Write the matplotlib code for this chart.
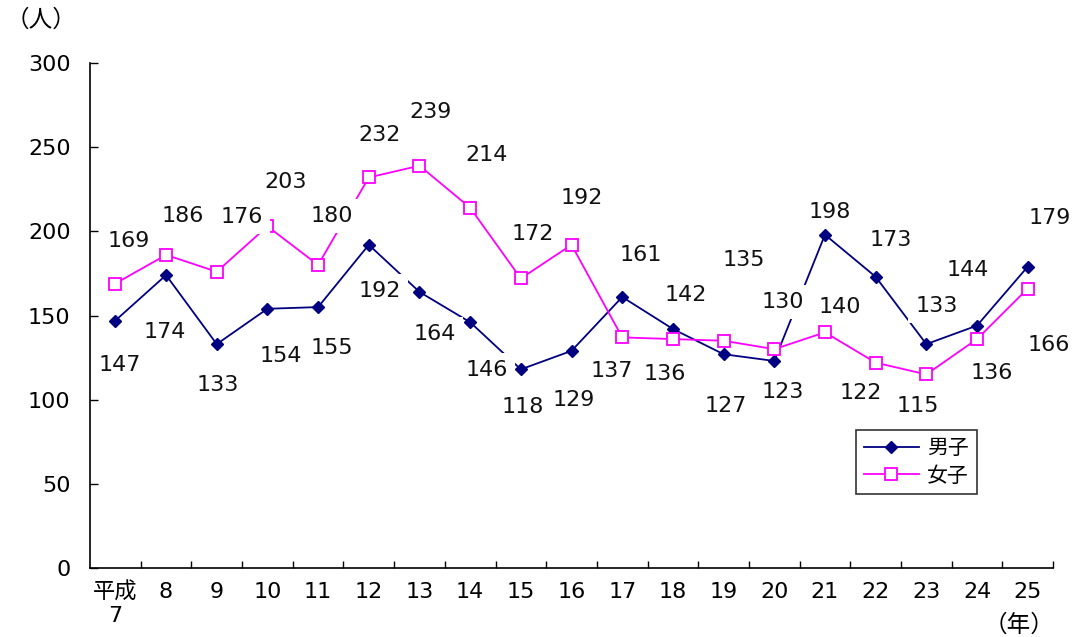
import matplotlib.pyplot as plt
import numpy as np

plt.rcParams['font.family'] = ['DejaVu Sans', 'Noto Sans CJK JP']

years = ['平成\n7', '8', '9', '10', '11', '12', '13', '14', '15', '16',
         '17', '18', '19', '20', '21', '22', '23', '24', '25']
male = [147, 174, 133, 154, 155, 192, 164, 146, 118, 129,
        161, 142, 127, 123, 198, 173, 133, 144, 179]
female = [169, 186, 176, 203, 180, 232, 239, 214, 172, 192,
          137, 136, 135, 130, 140, 122, 115, 136, 166]

# label offsets in pixels (dx, dy)
male_off = [(4, -44), (-1, -57), (1, -41), (13, -47), (14, -41), (11, -46),
            (15, -42), (17, -48), (2, -38), (2, -49), (19, 42), (13, 34),
            (2, -52), (8, -31), (5, 23), (15, 37), (10, 38), (-9, 56), (22, 49)]
female_off = [(13, 43), (17, 39), (25, 55), (18, 44), (14, 49), (11, 42),
              (11, 54), (16, 53), (12, 44), (10, 47), (-10, -34), (-8, -35),
              (20, 81), (9, 47), (15, 25), (-15, -30), (-9, -32), (15, -34), (21, -56)]

fig = plt.figure(figsize=(10.73, 6.37), dpi=100)
ax = fig.add_axes([0.0839, 0.1083, 0.8975, 0.7928])

x = np.arange(len(years))
ax.plot(x, male, color='#000080', lw=1.3, marker='D', ms=6.5,
        markerfacecolor='#000080', label='男子', zorder=3)
ax.plot(x, female, color='#FF00FF', lw=1.3, marker='s', ms=9,
        markerfacecolor='white', markeredgewidth=1.3, label='女子', zorder=3)

box = dict(facecolor='white', edgecolor='none', pad=5)
for xi, v, (dx, dy) in zip(x, male, male_off):
    ax.annotate(str(v), (xi, v), xytext=(dx, dy), textcoords='offset pixels',
                ha='center', va='center', fontsize=16, color='#111111',
                bbox=box, zorder=4)
for xi, v, (dx, dy) in zip(x, female, female_off):
    ax.annotate(str(v), (xi, v), xytext=(dx, dy), textcoords='offset pixels',
                ha='center', va='center', fontsize=16, color='#111111',
                bbox=box, zorder=4)

ax.set_xlim(-0.5, len(years) - 0.5)
ax.set_ylim(0, 300)
ax.set_yticks(range(0, 301, 50))
ax.set_xticks(x + 0.5, minor=False)
ax.set_xticklabels([])
ax.set_xticks(x, minor=True)
ax.set_xticklabels(years, minor=True, fontsize=16, linespacing=1.2, va='top')
ax.tick_params(axis='x', which='minor', length=0, pad=10)
ax.tick_params(axis='x', which='major', direction='in', length=5, width=1)
ax.tick_params(axis='y', direction='in', length=6, width=1, labelsize=16, pad=14)
for s in ['top', 'right']:
    ax.spines[s].set_visible(False)
for s in ['left', 'bottom']:
    ax.spines[s].set_linewidth(1.2)

fig.text(6 / 1073, 1 - 20 / 637, '（人）', fontsize=17, va='center', ha='left')
fig.text(1054 / 1073, 1 - 625 / 637, '（年）', fontsize=17, va='center', ha='right')

leg = ax.legend(loc='upper left', bbox_to_anchor=(856 / 1073, 1 - 430 / 637),
                bbox_transform=fig.transFigure, fontsize=15, frameon=True,
                fancybox=False, edgecolor='black', handlelength=2.6,
                borderpad=0.4, labelspacing=0.35, handletextpad=0.4,
                borderaxespad=0)
leg.get_frame().set_linewidth(1.2)

fig.savefig('out.png', dpi=100, facecolor='white')
